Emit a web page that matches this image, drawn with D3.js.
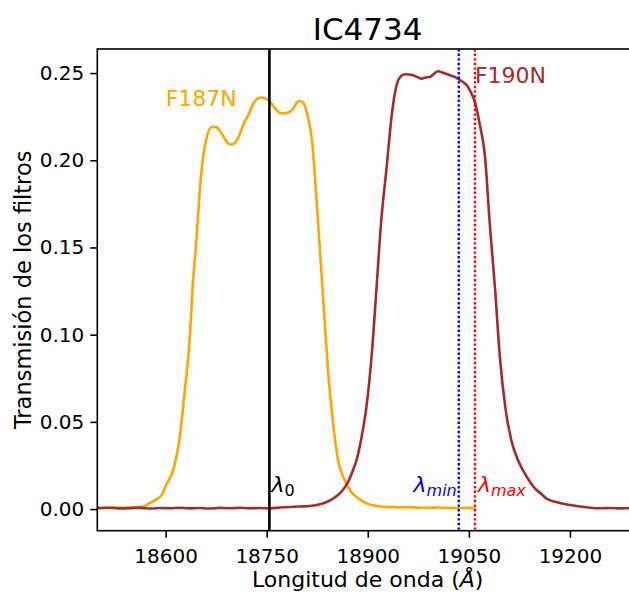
<!DOCTYPE html>
<html>
<head>
<meta charset="utf-8">
<script src="https://cdn.jsdelivr.net/npm/d3@7"></script>
<style>
  html, body { margin: 0; padding: 0; background: #fff; }
  svg { display: block; font-family: "DejaVu Sans", sans-serif; }
</style>
</head>
<body>
<svg id="chart" width="629" height="594"></svg>
<script>
// F187N filter transmission curve (wavelength in Å, transmission)
const f187nWave = [18498, 18510, 18522, 18535, 18548, 18561, 18570, 18576, 18588, 18594,
  18601, 18611, 18616, 18621, 18628, 18636, 18640, 18646, 18650, 18655,
  18660, 18668, 18675, 18683, 18690, 18693, 18698, 18704, 18710, 18717,
  18723, 18730, 18735, 18742, 18748, 18754, 18762, 18768, 18774, 18780,
  18784, 18790, 18796, 18799, 18805, 18811, 18817, 18821, 18826, 18831,
  18836, 18841, 18848, 18856, 18862, 18868, 18875, 18883, 18890, 18898,
  18910, 18923, 18935, 18948, 18962, 18975, 18992, 19005, 19020, 19037,
  19050, 19059];
const f187nTrans = [0.0008, 0.0006, 0.0009, 0.0007, 0.0010, 0.0012, 0.0020, 0.0034, 0.0060, 0.0080,
  0.0140, 0.0220, 0.0300, 0.0414, 0.0663, 0.0987, 0.1270, 0.1560, 0.1790, 0.2000,
  0.2114, 0.2190, 0.2190, 0.2153, 0.2110, 0.2096, 0.2090, 0.2105, 0.2150, 0.2220,
  0.2260, 0.2325, 0.2350, 0.2360, 0.2355, 0.2340, 0.2300, 0.2275, 0.2268, 0.2272,
  0.2277, 0.2300, 0.2335, 0.2340, 0.2325, 0.2250, 0.2120, 0.1940, 0.1656, 0.1370,
  0.1080, 0.0797, 0.0510, 0.0280, 0.0200, 0.0147, 0.0100, 0.0070, 0.0050, 0.0033,
  0.0020, 0.0013, 0.0012, 0.0010, 0.0011, 0.0008, 0.0008, 0.0009, 0.0006, 0.0006,
  0.0007, 0.0005];

// F190N filter transmission curve
const f190nWave = [18498, 18515, 18530, 18547, 18562, 18578, 18592, 18606, 18620, 18635,
  18650, 18665, 18680, 18695, 18710, 18725, 18740, 18755, 18770, 18789,
  18800, 18814, 18829, 18840, 18849, 18857, 18863, 18870, 18878, 18884,
  18888, 18893, 18898, 18906, 18913, 18920, 18928, 18935, 18940, 18945,
  18950, 18955, 18960, 18965, 18973, 18980, 18986, 18992, 18998, 19004,
  19013, 19022, 19029, 19036, 19041, 19047, 19053, 19059, 19066, 19074,
  19081, 19089, 19096, 19104, 19113, 19123, 19136, 19148, 19158, 19165,
  19180, 19190, 19200, 19215, 19230, 19245, 19260, 19275, 19290, 19301];
const f190nTrans = [0.0006, 0.0008, 0.0004, 0.0005, 0.0007, 0.0003, 0.0006, 0.0005, 0.0008, 0.0004,
  0.0006, 0.0003, 0.0007, 0.0005, 0.0008, 0.0005, 0.0006, 0.0004, 0.0009, 0.0013,
  0.0015, 0.0018, 0.0028, 0.0042, 0.0061, 0.0085, 0.0109, 0.0150, 0.0223, 0.0290,
  0.0357, 0.0460, 0.0586, 0.0892, 0.1270, 0.1656, 0.1960, 0.2240, 0.2380, 0.2458,
  0.2485, 0.2493, 0.2492, 0.2490, 0.2478, 0.2468, 0.2475, 0.2477, 0.2495, 0.2510,
  0.2500, 0.2487, 0.2478, 0.2462, 0.2450, 0.2430, 0.2390, 0.2334, 0.2210, 0.2019,
  0.1637, 0.1255, 0.0873, 0.0586, 0.0395, 0.0280, 0.0185, 0.0119, 0.0085, 0.0061,
  0.0040, 0.0030, 0.0023, 0.0015, 0.0008, 0.0005, 0.0006, 0.0004, 0.0005, 0.0004];

// Reference wavelengths
const lambda0 = 18754;
const lambdaMin = 19035;
const lambdaMax = 19059;

const xTicks = [18600, 18750, 18900, 19050, 19200];
const yTicks = [0.00, 0.05, 0.10, 0.15, 0.20, 0.25];

const svg = d3.select("#chart");
const plotLeft = 97.3, plotRight = 638, plotTop = 49, plotBottom = 530.7;

const x = d3.scaleLinear().domain([18498.6, 19301]).range([plotLeft, plotRight]);
const y = d3.scaleLinear().domain([-0.0124, 0.2638]).range([plotBottom, plotTop]);

svg.append("defs").append("clipPath").attr("id", "plotArea")
  .append("rect").attr("x", plotLeft).attr("y", plotTop)
  .attr("width", plotRight - plotLeft).attr("height", plotBottom - plotTop);

const plot = svg.append("g").attr("clip-path", "url(#plotArea)");

const line = d3.line()
  .x(d => x(d[0]))
  .y(d => y(d[1]))
  .curve(d3.curveMonotoneX);

plot.append("path")
  .datum(d3.zip(f187nWave, f187nTrans))
  .attr("d", line)
  .attr("fill", "none")
  .attr("stroke", "#FFA500")
  .attr("stroke-width", 2.6)
  .attr("stroke-linejoin", "round");

plot.append("path")
  .datum(d3.zip(f190nWave, f190nTrans))
  .attr("d", line)
  .attr("fill", "none")
  .attr("stroke", "#A52A2A")
  .attr("stroke-width", 2.6)
  .attr("stroke-linejoin", "round");

// Vertical markers
plot.append("line")
  .attr("x1", x(lambda0)).attr("x2", x(lambda0))
  .attr("y1", plotTop).attr("y2", plotBottom)
  .attr("stroke", "#000").attr("stroke-width", 2.6);

plot.append("line")
  .attr("x1", x(lambdaMin)).attr("x2", x(lambdaMin))
  .attr("y1", plotTop).attr("y2", plotBottom)
  .attr("stroke", "#0000FF").attr("stroke-width", 2.4)
  .attr("stroke-dasharray", "2.4,2.2");

plot.append("line")
  .attr("x1", x(lambdaMax)).attr("x2", x(lambdaMax))
  .attr("y1", plotTop).attr("y2", plotBottom)
  .attr("stroke", "#FF0000").attr("stroke-width", 2.4)
  .attr("stroke-dasharray", "2.4,2.2");

// Axes
const xAxis = d3.axisBottom(x).tickValues(xTicks).tickSize(7).tickPadding(6)
  .tickFormat(d3.format("d"));
const yAxis = d3.axisLeft(y).tickValues(yTicks).tickSize(7).tickPadding(6)
  .tickFormat(d3.format(".2f"));

const gx = svg.append("g").attr("transform", `translate(0,${plotBottom})`).call(xAxis);
const gy = svg.append("g").attr("transform", `translate(${plotLeft},0)`).call(yAxis);

[gx, gy].forEach(g => {
  g.select(".domain").remove();
  g.selectAll(".tick line").attr("stroke", "#000").attr("stroke-width", 1.6);
  g.selectAll(".tick text").attr("fill", "#000")
    .style("font-family", "'DejaVu Sans', sans-serif").style("font-size", "20px");
});
gx.selectAll(".tick text").attr("dy", "0.95em");

// Frame
svg.append("rect")
  .attr("x", plotLeft).attr("y", plotTop)
  .attr("width", plotRight - plotLeft).attr("height", plotBottom - plotTop)
  .attr("fill", "none").attr("stroke", "#000").attr("stroke-width", 1.6);

// Title and axis labels
svg.append("text")
  .attr("x", (plotLeft + plotRight) / 2).attr("y", 39.5)
  .attr("text-anchor", "middle")
  .style("font-size", "31px")
  .text("IC4734");

const xl = svg.append("text")
  .attr("x", (plotLeft + plotRight) / 2).attr("y", 587)
  .attr("text-anchor", "middle")
  .style("font-size", "22px");
xl.append("tspan").text("Longitud de onda (");
xl.append("tspan").style("font-style", "italic").text("Å");
xl.append("tspan").text(")");

svg.append("text")
  .attr("transform", `translate(31,${(plotTop + plotBottom) / 2}) rotate(-90)`)
  .attr("text-anchor", "middle")
  .style("font-size", "22.5px")
  .text("Transmisión de los filtros");

// Filter names
svg.append("text")
  .attr("x", x(18600)).attr("y", y(0.231))
  .attr("fill", "#FFA500").style("font-size", "22px")
  .text("F187N");

svg.append("text")
  .attr("x", x(lambdaMax)).attr("y", y(0.2445))
  .attr("fill", "#A52A2A").style("font-size", "22px")
  .text("F190N");

// Lambda labels: italic symbol with a smaller subscript
function lambdaLabel(xPos, anchor, color, sub, subItalic) {
  const t = svg.append("text")
    .attr("x", xPos).attr("y", y(0.01))
    .attr("text-anchor", anchor)
    .attr("fill", color)
    .style("font-size", "22px");
  t.append("tspan").style("font-style", "italic").text("λ");
  t.append("tspan")
    .attr("dy", 4)
    .style("font-size", "16px")
    .style("font-style", subItalic ? "italic" : "normal")
    .text(sub);
  return t;
}

lambdaLabel(x(lambda0) + 2, "start", "#000", "0", false);
lambdaLabel(x(lambdaMin) - 2, "end", "#0000FF", "min", true);
lambdaLabel(x(lambdaMax) + 3, "start", "#FF0000", "max", true);
</script>
</body>
</html>
